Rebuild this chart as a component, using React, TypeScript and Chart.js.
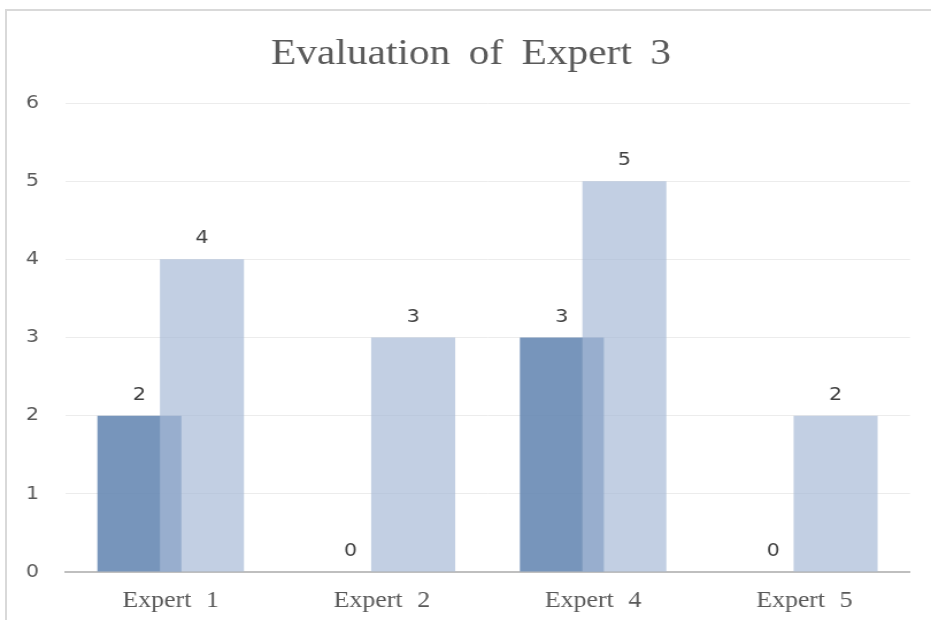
import { useEffect, useRef } from 'react';
import { Chart, registerables } from 'chart.js';

Chart.register(...registerables);

const chartTitle = 'Evaluation of Expert 3';
const categories = ['Expert 1', 'Expert 2', 'Expert 4', 'Expert 5'];
const seriesDark = [2, 0, 3, 0];
const seriesLight = [4, 3, 5, 2];
const yMin = 0;
const yMax = 6;
const yStep = 1;

const PAGE_W = 931;
const PAGE_H = 620;
const INNER_W = 810;
const SX = PAGE_W / INNER_W;

const wordSpacingPlugin = {
  id: 'wordSpacing',
  beforeDraw(chart: any) {
    const ctx: any = chart.ctx;
    if ('wordSpacing' in ctx) ctx.wordSpacing = '7px';
  },
  afterDraw(chart: any) {
    const ctx: any = chart.ctx;
    if ('wordSpacing' in ctx) ctx.wordSpacing = '0px';
  },
};

const titlePlugin = {
  id: 'customTitle',
  afterDraw(chart: any) {
    const ctx: any = chart.ctx;
    ctx.save();
    if ('wordSpacing' in ctx) ctx.wordSpacing = '7px';
    ctx.font = '36px "Liberation Serif"';
    ctx.fillStyle = '#595959';
    ctx.textAlign = 'center';
    ctx.textBaseline = 'middle';
    ctx.fillText(chartTitle, 409.8, 55);
    ctx.restore();
  },
};

const drawOrderPlugin = {
  id: 'drawOrder',
  beforeDatasetsDraw(chart: any) {
    const meta = chart.getDatasetMeta(0);
    if (meta && meta.controller) meta.controller.draw();
  },
  beforeDatasetDraw(_chart: any, args: any) {
    if (args.index === 0) return false;
    return true;
  },
};

const valueLabelPlugin = {
  id: 'valueLabels',
  afterDatasetsDraw(chart: any) {
    const ctx = chart.ctx;
    ctx.save();
    ctx.font = '18px "DejaVu Sans"';
    ctx.fillStyle = '#404040';
    ctx.textAlign = 'center';
    ctx.textBaseline = 'alphabetic';
    chart.data.datasets.forEach((ds: any, di: number) => {
      const meta = chart.getDatasetMeta(di);
      meta.data.forEach((el: any, i: number) => {
        ctx.fillText(String(ds.data[i]), el.x, el.y - 16);
      });
    });
    ctx.restore();
  },
};

export default function App() {
  const canvasRef = useRef<HTMLCanvasElement | null>(null);

  useEffect(() => {
    const canvas = canvasRef.current;
    if (!canvas) return;
    const chart = new Chart(canvas, {
      type: 'bar',
      data: {
        labels: categories,
        datasets: [
          {
            label: 'Series 1',
            data: seriesDark,
            backgroundColor: 'rgba(104,138,180,0.9)',
            borderWidth: 0,
            categoryPercentage: 0.592,
            barPercentage: 1.344,
          },
          {
            label: 'Series 2',
            data: seriesLight,
            backgroundColor: 'rgba(167,185,214,0.69)',
            borderWidth: 0,
            categoryPercentage: 0.592,
            barPercentage: 1.344,
          },
        ],
      },
      options: {
        responsive: false,
        animation: false,
        devicePixelRatio: 1,
        layout: { padding: { left: 0, right: 18.3, top: 103, bottom: 0 } },
        plugins: {
          legend: { display: false },
          tooltip: { enabled: false },
          title: { display: false },
        },
        scales: {
          x: {
            offset: true,
            grid: { display: false, drawTicks: false },
            border: { display: true, color: '#bfbfbf', width: 2 },
            ticks: {
              color: '#595959',
              font: { family: '"Liberation Serif"', size: 22.5 },
              padding: 16,
              maxRotation: 0,
            },
            afterFit: (scale: any) => {
              scale.height = 48;
            },
          },
          y: {
            min: yMin,
            max: yMax,
            grid: { color: '#ececec', lineWidth: 1, drawTicks: false },
            border: { display: false },
            ticks: {
              stepSize: yStep,
              color: '#595959',
              font: { family: '"DejaVu Sans"', size: 18 },
              padding: 22.7,
            },
            afterFit: (scale: any) => {
              scale.width = 56.6;
            },
          },
        },
      },
      plugins: [wordSpacingPlugin, drawOrderPlugin, valueLabelPlugin, titlePlugin],
    });
    return () => chart.destroy();
  }, []);

  return (
    <div style={{ position: 'fixed', left: 0, top: 0, width: PAGE_W, height: PAGE_H, overflow: 'hidden', background: '#ffffff' }}>
      <div
        style={{
          position: 'absolute',
          left: 5,
          top: 9,
          width: PAGE_W + 20,
          height: PAGE_H + 20,
          borderTop: '2px solid #d9d9d9',
          borderLeft: '2px solid #d9d9d9',
          boxSizing: 'border-box',
        }}
      />
      <div
        style={{
          position: 'absolute',
          left: 0,
          top: 0,
          width: INNER_W,
          height: PAGE_H,
          transform: `scaleX(${SX})`,
          transformOrigin: '0 0',
        }}
      >
        <canvas
          ref={canvasRef}
          width={INNER_W}
          height={PAGE_H}
          style={{ width: INNER_W, height: PAGE_H, display: 'block' }}
        />
      </div>
    </div>
  );
}
